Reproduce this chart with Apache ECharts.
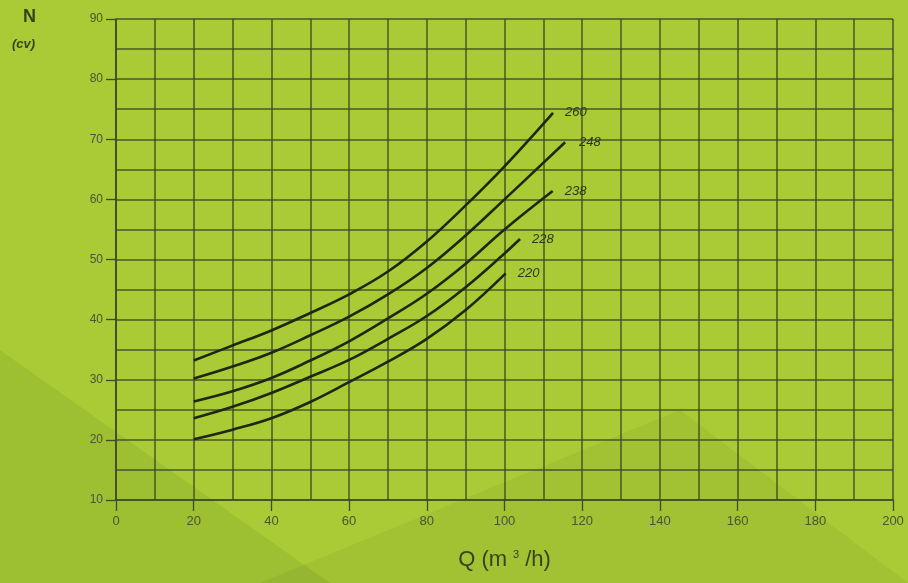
<!DOCTYPE html>
<html>
<head>
<meta charset="utf-8">
<script src="https://cdn.jsdelivr.net/npm/echarts@6/dist/echarts.min.js"></script>
<style>
html,body{margin:0;padding:0;background:#a9cc36;}
#c{width:908px;height:583px;}
</style>
</head>
<body>
<div id="c"></div>
<script>
// Data
const curveNames = ['260', '248', '238', '228', '220'];
const q260 = [20, 30, 40, 50, 60, 70, 80, 90, 100, 112.5];
const n260 = [33.2, 35.7, 38.2, 41.1, 44.2, 48.0, 53.0, 59.0, 65.5, 74.4];
const q248 = [20, 30, 40, 50, 60, 70, 80, 90, 100, 115.6];
const n248 = [30.2, 32.2, 34.5, 37.4, 40.5, 44.2, 48.6, 54.0, 60.0, 69.5];
const q238 = [20, 30, 40, 50, 60, 70, 80, 90, 100, 112.4];
const n238 = [26.4, 28.1, 30.3, 33.2, 36.4, 40.2, 44.3, 49.3, 55.0, 61.4];
const q228 = [20, 30, 40, 50, 60, 70, 80, 90, 100, 104];
const n228 = [23.6, 25.5, 27.8, 30.5, 33.3, 36.8, 40.6, 45.4, 51.0, 53.4];
const q220 = [20, 30, 40, 50, 60, 70, 80, 90, 100.3];
const n220 = [20.1, 21.7, 23.6, 26.3, 29.6, 33.0, 36.8, 41.6, 47.7];
const xTicks = [0, 20, 40, 60, 80, 100, 120, 140, 160, 180, 200];
const yTicks = [10, 20, 30, 40, 50, 60, 70, 80, 90];

const qs = [q260, q248, q238, q228, q220];
const ns = [n260, n248, n238, n228, n220];
const labelOffsets = [[4, 0], [6, 0], [4, 0], [4, 0], [4, 0]];

const gridColor = '#3f4a26';
const textColor = '#4a5531';

const chart = echarts.init(document.getElementById('c'));
chart.setOption({
  backgroundColor: '#a9cc36',
  animation: false,
  grid: { left: 116, right: 15, top: 19, bottom: 83 },
  xAxis: {
    type: 'value', min: 0, max: 200, interval: 20,
    axisLine: { show: true, lineStyle: { color: gridColor, width: 1.6 } },
    axisTick: { show: true, length: 11, lineStyle: { color: gridColor, width: 1.3 } },
    minorTick: { show: false, splitNumber: 2 },
    splitLine: { show: true, lineStyle: { color: gridColor, width: 1.5, opacity: 0.9 } },
    minorSplitLine: { show: true, lineStyle: { color: gridColor, width: 1.5, opacity: 0.9 } },
    axisLabel: { color: textColor, fontSize: 13, margin: 15, fontFamily: 'Liberation Sans',
      formatter: v => xTicks.includes(v) ? String(v) : '' },
    name: '{a|Q (m}{s|3}{a|/h)}', nameLocation: 'middle', nameGap: 49,
    nameTextStyle: {
      rich: {
        a: { color: '#38421f', fontSize: 22, fontFamily: 'Liberation Sans' },
        s: { color: '#38421f', fontSize: 11, fontFamily: 'Liberation Sans', verticalAlign: 'top', padding: [0, 6, 10, 6] }
      }
    }
  },
  yAxis: {
    type: 'value', min: 10, max: 90, interval: 10,
    axisLine: { show: true, lineStyle: { color: gridColor, width: 1.6 } },
    axisTick: { show: true, length: 10, lineStyle: { color: gridColor, width: 1.3 } },
    splitLine: { show: true, lineStyle: { color: gridColor, width: 1.5, opacity: 0.9 } },
    minorTick: { show: false, splitNumber: 2 },
    minorSplitLine: { show: true, lineStyle: { color: gridColor, width: 1.5, opacity: 0.9 } },
    axisLabel: { color: textColor, fontSize: 12, margin: 13, fontFamily: 'Liberation Sans',
      formatter: v => yTicks.includes(v) ? String(v) : '' }
  },
  graphic: [
    { type: 'polygon', z: -10, silent: true,
      shape: { points: [[0, 350], [0, 583], [330, 583]] },
      style: { fill: 'rgba(60,80,20,0.10)' } },
    { type: 'polygon', z: -10, silent: true,
      shape: { points: [[260, 583], [680, 410], [908, 583]] },
      style: { fill: 'rgba(60,80,20,0.08)' } },
    { type: 'text', left: 23, top: 8, style: { text: 'N', fill: '#38421f', font: 'bold 18px "Liberation Sans"' } },
    { type: 'text', left: 12, top: 38, style: { text: '(cv)', fill: '#38421f', font: 'italic bold 13px "Liberation Sans"' } }
  ],
  series: curveNames.map((name, i) => ({
    type: 'line', name: name, smooth: 0.4, symbol: 'none',
    data: qs[i].map((q, k) => [q, ns[i][k]]),
    lineStyle: { color: '#1f2713', width: 2.6 },
    endLabel: { show: true, formatter: name, color: '#2e3620', fontSize: 13, fontStyle: 'italic',
      fontFamily: 'Liberation Sans', offset: labelOffsets[i] }
  }))
});
</script>
</body>
</html>
